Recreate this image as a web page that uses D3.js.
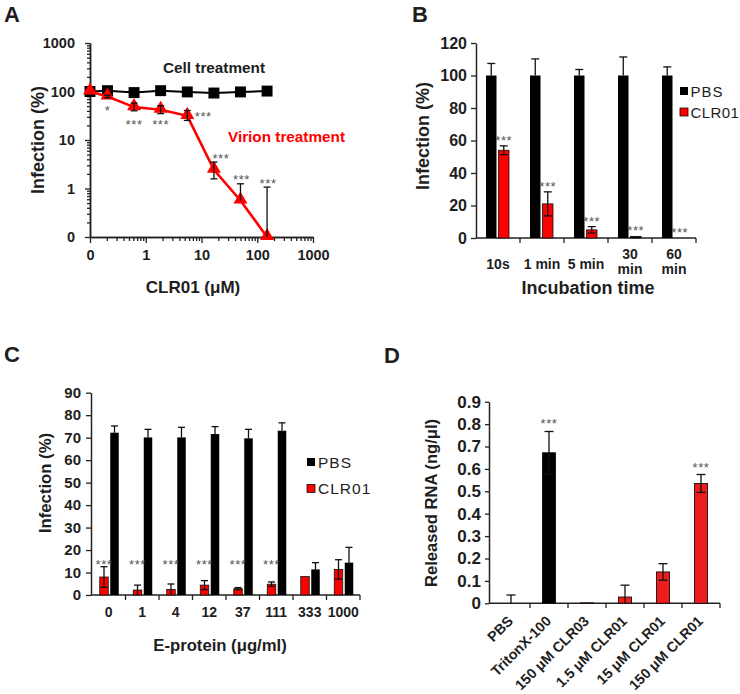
<!DOCTYPE html>
<html><head><meta charset="utf-8">
<script src="https://cdn.jsdelivr.net/npm/d3@7"></script>
<style>body{margin:0;background:#fff}svg{display:block}</style>
</head><body><svg id="c" width="740" height="694"></svg>
<script>
// ---------- Panel A data ----------
const concA = [0, 0.206, 0.617, 1.85, 5.56, 16.7, 50, 150];
const cellA = [100, 104, 95, 104, 98, 93, 98, 102];
const virionA = [100, 79, 47.7, 42, 31.5, 2.43, 0.566, 0];
const virionHiA = [100, 84, 57.6, 50.7, 40.6, 3.5, 1.25, 1.07];
const virionLoA = [100, 74, 40, 35, 25.3, 1.58, 0.566, 0];
const sigA = ["", "*", "***", "***", "***", "***", "***", "***"];
const ticksA = [0.1, 1, 10, 100, 1000];
const tickLabelsA = ["0", "1", "10", "100", "1000"];

// ---------- Panel B data ----------
const timesB = ["10s", "1 min", "5 min", "30 min", "60 min"];
const pbsB = [100, 100, 100, 100, 100];
const pbsErrB = [7.4, 10.2, 3.7, 11.4, 5.3];
const clrB = [54, 21, 5, 1, 0];
const clrErrB = [2.7, 7.4, 2, 0, 0];
const sigB = ["***", "***", "***", "***", "***"];
const ticksB = [0, 20, 40, 60, 80, 100, 120];

// ---------- Panel C data ----------
const doseC = ["0", "1", "4", "12", "37", "111", "333", "1000"];
const pbsC = [72.2, 70.1, 70.1, 71.6, 69.7, 73.1, 11.4, 14.4];
const pbsErrC = [3, 3.6, 4.5, 3.3, 4, 3.5, 3, 6.8];
const clrC = [8, 2.2, 2.5, 4.4, 2.8, 4.8, 8.2, 11.4];
const clrErrC = [4.6, 2.2, 2.4, 2, 0.5, 1, 0, 4.3];
const sigC = ["***", "***", "***", "***", "***", "***", "", ""];
const ticksC = [0, 10, 20, 30, 40, 50, 60, 70, 80, 90];

// ---------- Panel D data ----------
const groupsD = ["PBS", "TritonX-100", "150 \u03bcM CLR03", "1.5 \u03bcM CLR01", "15 \u03bcM CLR01", "150 \u03bcM CLR01"];
const rnaD = [0, 0.672, 0.002, 0.028, 0.14, 0.535];
const rnaErrD = [0.037, 0.095, 0, 0.053, 0.037, 0.04];
const colorD = ["red", "black", "red", "red", "red", "red"];
const sigD = ["", "***", "", "", "", "***"];
const ticksD = [0, 0.1, 0.2, 0.3, 0.4, 0.5, 0.6, 0.7, 0.8, 0.9];

// ---------- helpers ----------
const F = '"Liberation Sans", Arial, Helvetica, sans-serif';
const TXT = "#1e1e1e";
const RED = "#ff0000";
const svg = d3.select("#c");

function styleAxis(g, fs) {
  g.attr("font-family", F);
  g.selectAll("path.domain").attr("stroke", "#222").attr("stroke-width", 1.5);
  g.selectAll(".tick line").attr("stroke", "#222").attr("stroke-width", 1.3);
  g.selectAll(".tick text").attr("font-size", fs).attr("font-weight", "bold").attr("fill", TXT);
}
function txt(g, x, y, s, fs, opts = {}) {
  const t = g.append("text").attr("x", x).attr("y", y).attr("font-family", F)
    .attr("font-size", fs).attr("font-weight", opts.weight || "bold")
    .attr("fill", opts.fill || TXT).attr("text-anchor", opts.anchor || "middle").text(s);
  if (opts.rotate) t.attr("transform", `rotate(${opts.rotate},${x},${y})`);
  if (opts.ls) t.attr("letter-spacing", opts.ls);
  return t;
}
function stars(g, x, yc, s) {
  if (!s) return;
  g.append("text").attr("x", x).attr("y", yc + 8).attr("font-family", F).attr("font-size", 13)
    .attr("fill", "#555").attr("text-anchor", "middle").attr("letter-spacing", 0.6).text(s);
}
function errBar(g, x, yTop, yBot, cap, showBot) {
  g.append("line").attr("x1", x).attr("x2", x).attr("y1", yTop).attr("y2", yBot)
    .attr("stroke", "#111").attr("stroke-width", 1.3);
  g.append("line").attr("x1", x - cap / 2).attr("x2", x + cap / 2).attr("y1", yTop).attr("y2", yTop)
    .attr("stroke", "#111").attr("stroke-width", 1.3);
  if (showBot) g.append("line").attr("x1", x - cap / 2).attr("x2", x + cap / 2).attr("y1", yBot).attr("y2", yBot)
    .attr("stroke", "#111").attr("stroke-width", 1.3);
}

// =============== Panel A ===============
(function () {
  const g = svg.append("g");
  const xA = d3.scaleLog().domain([0.1, 1000]).range([90, 313]);
  const yA = d3.scaleLog().domain([0.1, 1000]).range([237, 43]);
  const minor = [];
  [-1, 0, 1, 2].forEach(e => { for (let k = 2; k <= 9; k++) minor.push(k * Math.pow(10, e)); });
  const lab = d => tickLabelsA[ticksA.indexOf(d)];

  const gx1 = g.append("g").attr("transform", "translate(0,237)")
    .call(d3.axisBottom(xA).tickValues(minor).tickSize(4).tickSizeOuter(0).tickFormat(""));
  styleAxis(gx1, 14);
  const gx2 = g.append("g").attr("transform", "translate(0,237)")
    .call(d3.axisBottom(xA).tickValues(ticksA).tickSize(6).tickSizeOuter(0).tickFormat(lab));
  styleAxis(gx2, 14.5);
  gx2.selectAll(".tick text").attr("y", 13);
  const gy1 = g.append("g").attr("transform", "translate(90,0)")
    .call(d3.axisLeft(yA).tickValues(minor).tickSize(3).tickSizeOuter(0).tickFormat(""));
  styleAxis(gy1, 14);
  const gy2 = g.append("g").attr("transform", "translate(90,0)")
    .call(d3.axisLeft(yA).tickValues(ticksA).tickSize(5).tickSizeOuter(0).tickFormat(lab));
  styleAxis(gy2, 14.5);
  gy2.selectAll(".tick text").attr("x", -15);

  const px = c => xA(Math.max(c, 0.1));
  const py = v => yA(Math.max(v, 0.1));

  const line = d3.line();
  g.append("path").attr("d", line(concA.map((c, i) => [px(c), py(cellA[i])])))
    .attr("fill", "none").attr("stroke", "#000").attr("stroke-width", 2);
  g.selectAll(".sq").data(concA).enter().append("path")
    .attr("d", d3.symbol(d3.symbolSquare, 120))
    .attr("transform", (c, i) => `translate(${px(c)},${py(cellA[i])})`).attr("fill", "#000");

  g.append("path").attr("d", line(concA.map((c, i) => [px(c), py(virionA[i])])))
    .attr("fill", "none").attr("stroke", RED).attr("stroke-width", 2.6);
  g.selectAll(".tri").data(concA).enter().append("path")
    .attr("d", d3.symbol(d3.symbolTriangle, 85))
    .attr("transform", (c, i) => `translate(${px(c)},${py(virionA[i]) - 1})`).attr("fill", RED);
  concA.forEach((c, i) => {
    if (i === 0) return;
    errBar(g, px(c), py(virionHiA[i]), py(virionLoA[i]), 7, virionLoA[i] < virionA[i]);
  });
  // significance marks (placement relative to each point)
  const place = [null, [0, 11], [0, 13.5], [0, 11], [16, -3], [7, null], [1, null], [1, null]];
  concA.forEach((c, i) => {
    if (!place[i]) return;
    const [dx, dy] = place[i];
    const y = dy === null ? py(virionHiA[i]) - 7.5 : py(virionA[i]) + dy;
    stars(g, px(c) + dx, y, sigA[i]);
  });

  txt(g, 214, 73, "Cell treatment", 15.3);
  txt(g, 286.5, 142, "Virion treatment", 15.3, { fill: RED });
  txt(g, 44, 140, "Infection (%)", 18, { rotate: -90 });
  txt(g, 193, 293, "CLR01 (\u03bcM)", 17);
  txt(g, 4, 22, "A", 22, { anchor: "start" });
})();

// =============== Panel B ===============
(function () {
  const g = svg.append("g");
  const x = d3.scaleBand().domain(timesB).range([476, 696]);
  const y = d3.scaleLinear().domain([0, 120]).range([238, 43]);
  const gy = g.append("g").attr("transform", "translate(476,0)")
    .call(d3.axisLeft(y).tickValues(ticksB).tickSize(5).tickSizeOuter(0).tickPadding(4));
  styleAxis(gy, 16);
  g.append("line").attr("x1", 476).attr("x2", 696).attr("y1", 238).attr("y2", 238).attr("stroke", "#222").attr("stroke-width", 1.5);
  timesB.forEach(t => {
    const xe = x(t) + x.bandwidth();
    g.append("line").attr("x1", xe).attr("x2", xe).attr("y1", 238).attr("y2", 243).attr("stroke", "#222").attr("stroke-width", 1.3);
  });
  timesB.forEach((t, i) => {
    const cx = x(t) + x.bandwidth() / 2;
    const yb = y(pbsB[i]);
    errBar(g, cx - 6.75, y(pbsB[i] + pbsErrB[i]), yb, 8, false);
    g.append("rect").attr("x", cx - 12).attr("width", 10.5).attr("y", yb).attr("height", 238 - yb).attr("fill", "#000");
    const yr = y(clrB[i]);
    if (clrB[i] > 0)
      g.append("rect").attr("x", cx + 0.5).attr("width", 10.5).attr("y", yr).attr("height", 238 - yr)
        .attr("fill", clrB[i] < 2 ? "#000" : RED).attr("stroke", "#111").attr("stroke-width", 0.8);
    if (clrErrB[i] > 0)
      errBar(g, cx + 5.75, y(clrB[i] + clrErrB[i]), y(Math.max(clrB[i] - clrErrB[i], 0)), 8, clrB[i] - clrErrB[i] > 0);
    stars(g, cx + 5.75, y(clrB[i] + clrErrB[i]) - 9, sigB[i]);
    // tick label (wrap when too wide)
    const t1 = txt(g, cx, 269, t, 14);
    if (t1.node().getComputedTextLength() > 40) {
      const parts = t.split(" ");
      t1.text(parts[0]).attr("y", 258.5);
      txt(g, cx, 273.5, parts[1], 14);
    }
  });
  // legend
  g.append("rect").attr("x", 680).attr("y", 87).attr("width", 8).attr("height", 8).attr("fill", "#000");
  txt(g, 690.5, 97, "PBS", 15, { anchor: "start", weight: "normal", ls: 1 });
  g.append("rect").attr("x", 680).attr("y", 108).attr("width", 8).attr("height", 8).attr("fill", RED).attr("stroke", "#111").attr("stroke-width", 0.8);
  txt(g, 690.5, 118, "CLR01", 15, { anchor: "start", weight: "normal", ls: 0.4 });

  txt(g, 429, 136, "Infection (%)", 18, { rotate: -90 });
  txt(g, 588, 294, "Incubation time", 18);
  txt(g, 412, 22, "B", 22, { anchor: "start" });
})();

// =============== Panel C ===============
(function () {
  const g = svg.append("g");
  const x = d3.scaleBand().domain(doseC).range([92, 360]);
  const y = d3.scaleLinear().domain([0, 90]).range([595, 392.7]);
  const gy = g.append("g").attr("transform", "translate(91,0)")
    .call(d3.axisLeft(y).tickValues(ticksC).tickSize(5).tickSizeOuter(0).tickPadding(5));
  styleAxis(gy, 15);
  g.append("line").attr("x1", 91).attr("x2", 360).attr("y1", 595).attr("y2", 595).attr("stroke", "#222").attr("stroke-width", 1.5);
  doseC.forEach(d => {
    const xe = x(d) + x.bandwidth();
    g.append("line").attr("x1", xe).attr("x2", xe).attr("y1", 595).attr("y2", 600).attr("stroke", "#222").attr("stroke-width", 1.3);
  });
  doseC.forEach((d, i) => {
    const cx = x(d) + x.bandwidth() / 2;
    const yb = y(pbsC[i]);
    errBar(g, cx + 5.75, y(pbsC[i] + pbsErrC[i]), yb, 7, false);
    g.append("rect").attr("x", cx + 1.5).attr("width", 8.5).attr("y", yb).attr("height", 595 - yb).attr("fill", "#000");
    const yr = y(clrC[i]);
    g.append("rect").attr("x", cx - 9).attr("width", 8.5).attr("y", yr).attr("height", 595 - yr)
      .attr("fill", RED).attr("stroke", "#111").attr("stroke-width", 0.8);
    if (clrErrC[i] > 0)
      errBar(g, cx - 4.75, y(clrC[i] + clrErrC[i]), y(Math.max(clrC[i] - clrErrC[i], 0)), 7, clrC[i] - clrErrC[i] > 0.3);
    stars(g, cx - 4.75, y(15.3), sigC[i]);
    txt(g, cx, 617, d, 14);
  });
  g.append("rect").attr("x", 307).attr("y", 458).attr("width", 8).attr("height", 8).attr("fill", "#000");
  txt(g, 318, 467.5, "PBS", 15.5, { anchor: "start", weight: "normal", ls: 1 });
  g.append("rect").attr("x", 307).attr("y", 484.5).attr("width", 8).attr("height", 8).attr("fill", RED).attr("stroke", "#111").attr("stroke-width", 0.8);
  txt(g, 318, 494, "CLR01", 15.5, { anchor: "start", weight: "normal", ls: 1 });

  txt(g, 51, 483, "Infection (%)", 16.7, { rotate: -90 });
  txt(g, 220, 651, "E-protein (\u03bcg/ml)", 16.7);
  txt(g, 4, 362, "C", 22, { anchor: "start" });
})();

// =============== Panel D ===============
(function () {
  const g = svg.append("g");
  const x = d3.scaleBand().domain(groupsD).range([492, 720]);
  const y = d3.scaleLinear().domain([0, 0.9]).range([603.3, 401.7]);
  const gy = g.append("g").attr("transform", "translate(489,0)")
    .call(d3.axisLeft(y).tickValues(ticksD).tickSize(4).tickSizeOuter(0).tickPadding(4)
      .tickFormat(d => d === 0 ? "0" : d3.format(".1f")(d)));
  styleAxis(gy, 17);
  g.append("line").attr("x1", 489).attr("x2", 720).attr("y1", 603.3).attr("y2", 603.3).attr("stroke", "#222").attr("stroke-width", 1.5);
  groupsD.forEach(d => {
    const xe = x(d) + x.bandwidth();
    g.append("line").attr("x1", xe).attr("x2", xe).attr("y1", 603.3).attr("y2", 608).attr("stroke", "#222").attr("stroke-width", 1.3);
  });
  groupsD.forEach((d, i) => {
    const cx = x(d) + x.bandwidth() / 2;
    const yb = y(rnaD[i]);
    if (rnaD[i] > 0)
      g.append("rect").attr("x", cx - 6.5).attr("width", 13).attr("y", yb).attr("height", 603.3 - yb)
        .attr("fill", colorD[i] === "black" ? "#000" : "#ee1c1c").attr("stroke", "#111").attr("stroke-width", 0.9);
    if (rnaErrD[i] > 0)
      errBar(g, cx, y(rnaD[i] + rnaErrD[i]), y(Math.max(rnaD[i] - rnaErrD[i], 0)), 9, rnaD[i] - rnaErrD[i] > 0);
    stars(g, cx, y(rnaD[i] + rnaErrD[i]) - 11, sigD[i]);
    g.append("text").attr("font-family", F).attr("font-size", 14.3).attr("font-weight", "bold").attr("fill", TXT)
      .attr("text-anchor", "end").attr("transform", `translate(${cx + 3},${622}) rotate(-45)`).text(d);
  });
  txt(g, 437, 503, "Released RNA (ng/\u03bcl)", 16.6, { rotate: -90 });
  txt(g, 384, 363, "D", 22, { anchor: "start" });
})();
</script></body></html>
